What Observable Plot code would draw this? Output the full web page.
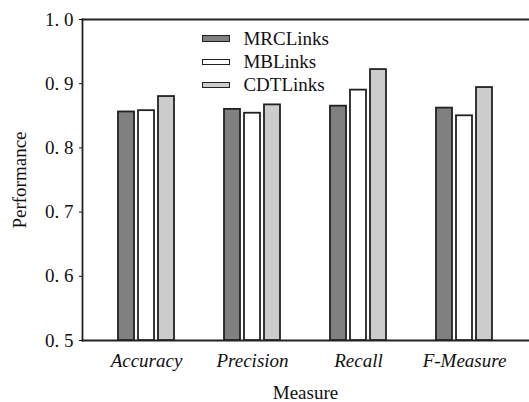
<!DOCTYPE html>
<html>
<head>
<meta charset="utf-8">
<script src="https://cdn.jsdelivr.net/npm/d3@7"></script>
<script src="https://cdn.jsdelivr.net/npm/@observablehq/plot@0.6"></script>
<style>
  html, body { margin: 0; padding: 0; background: #fff; overflow: hidden; }
  #wrap { position: relative; width: 529px; height: 402px; }
  #axes, #bars { position: absolute; left: 0; top: 0; }
  #wrap svg { background: transparent !important; }
  #wrap svg text { font-family: "Liberation Serif", "Times New Roman", serif !important; }
  #bars svg [aria-label="fx-axis tick label"] text { font-style: italic; }
  #legend { position: absolute; left: 202px; top: 27px; font-family: "Liberation Serif", "Times New Roman", serif; font-size: 19px; color: #111; }
  .row { display: flex; align-items: center; height: 23.3px; }
  .sw { width: 26.4px; height: 4.4px; border: 1.8px solid #222; margin-right: 13px; }
</style>
</head>
<body>
<div id="wrap">
  <div id="axes"></div>
  <div id="bars"></div>
  <div id="legend"></div>
</div>
<script>
const measures = ["Accuracy", "Precision", "Recall", "F-Measure"];
const series = ["MRCLinks", "MBLinks", "CDTLinks"];
const colors = ["#808080", "#ffffff", "#cccccc"];
const mrcValues = [0.856, 0.860, 0.865, 0.862];
const mbValues = [0.858, 0.854, 0.890, 0.850];
const cdtValues = [0.880, 0.867, 0.922, 0.894];
const yTicks = [0.5, 0.6, 0.7, 0.8, 0.9, 1.0];

const valuesBySeries = [mrcValues, mbValues, cdtValues];
const data = [];
series.forEach((s, i) => measures.forEach((m, j) => data.push({measure: m, series: s, value: valuesBySeries[i][j]})));

const common = {
  width: 529,
  height: 402,
  marginLeft: 82,
  marginRight: 0,
  marginTop: 19,
  marginBottom: 62,
  style: {fontFamily: "'Liberation Serif', serif", fontSize: "19px", color: "#111", background: "transparent", overflow: "visible"},
  y: {domain: [0.5, 1.0], label: null}
};

// Layer 1: frame lines and y axis
const axes = Plot.plot({
  ...common,
  marks: [
    Plot.frame({anchor: "top", stroke: "#222", strokeWidth: 1.8}),
    Plot.frame({anchor: "bottom", stroke: "#222", strokeWidth: 1.8}),
    Plot.frame({anchor: "left", stroke: "#222", strokeWidth: 1.8}),
    Plot.axisY({ticks: yTicks, tickSize: 3, tickPadding: 6, tickFormat: d => d3.format(".1f")(d).replace(".", ". "), label: "Performance", labelArrow: "none", labelAnchor: "center", labelOffset: 70, fontSize: 19})
  ]
});
document.getElementById("axes").appendChild(axes);

// Layer 2: grouped bars
const bars = Plot.plot({
  ...common,
  fx: {domain: measures, paddingInner: 0.45, paddingOuter: 0.32, label: null},
  x: {domain: series, paddingInner: 0.2, paddingOuter: 0, axis: null},
  color: {domain: series, range: colors},
  marks: [
    Plot.barY(data, {fx: "measure", x: "series", y1: 0.5, y2: "value", fill: "series", stroke: "#222", strokeWidth: 1.8}),
    Plot.axisY({ticks: [], label: null}),
    Plot.axisFx({anchor: "bottom", tickSize: 0, tickPadding: 12.5, label: "Measure", labelArrow: "none", labelAnchor: "center", labelOffset: 58, fontSize: 19})
  ]
});
document.getElementById("bars").appendChild(bars);

const legend = document.getElementById("legend");
series.forEach((s, i) => {
  const row = document.createElement("div");
  row.className = "row";
  const sw = document.createElement("div");
  sw.className = "sw";
  sw.style.background = colors[i];
  const t = document.createElement("span");
  t.textContent = s;
  row.appendChild(sw);
  row.appendChild(t);
  legend.appendChild(row);
});
</script>
</body>
</html>
